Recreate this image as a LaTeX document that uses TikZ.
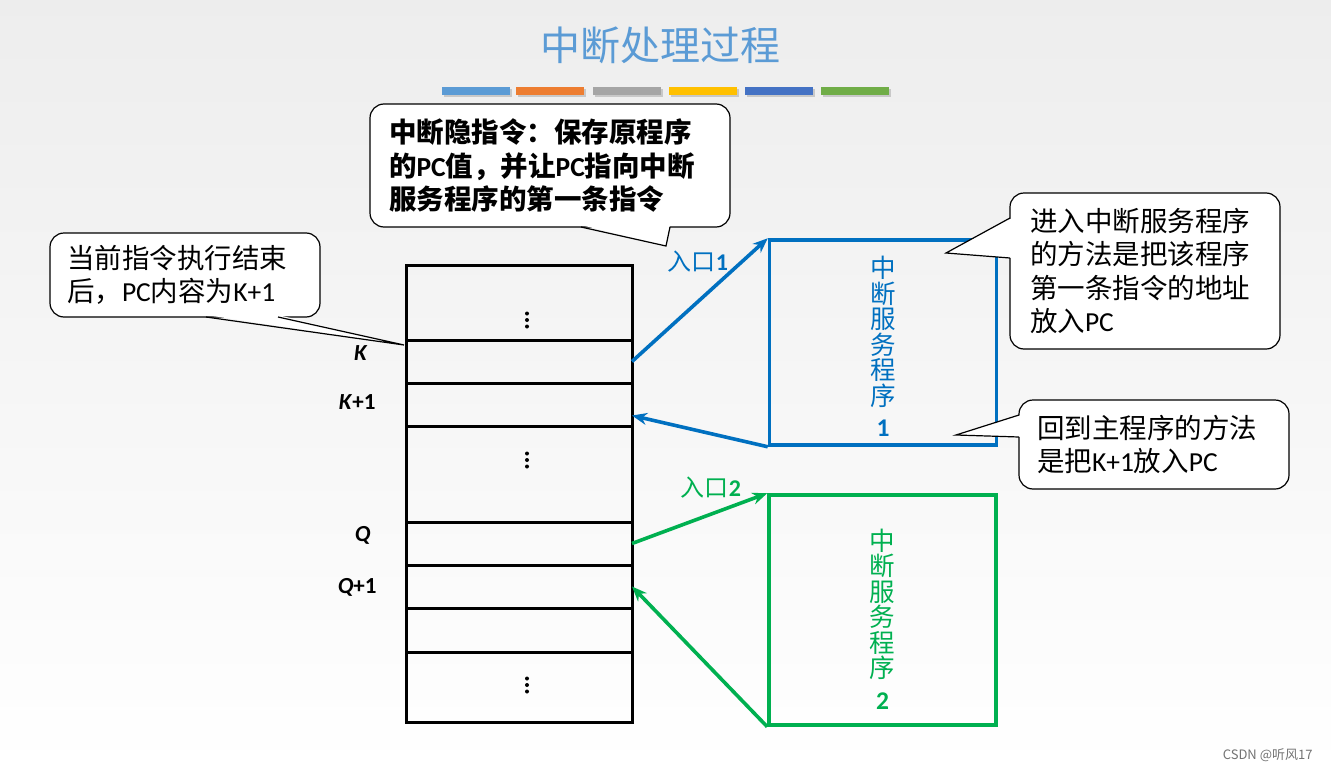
\documentclass[tikz,border=0pt]{standalone}
\usepackage{fontspec}
\setmainfont{Carlito}
\newfontfamily\cjk{Noto Sans CJK SC}
\usetikzlibrary{arrows.meta,positioning,calc,shadows}
\definecolor{titleblue}{HTML}{5B9BD5}
\definecolor{progblue}{HTML}{0070C0}
\definecolor{proggreen}{HTML}{00B050}
\definecolor{barA}{HTML}{5B9BD5}
\definecolor{barB}{HTML}{ED7D31}
\definecolor{barC}{HTML}{A5A5A5}
\definecolor{barD}{HTML}{FFC000}
\definecolor{barE}{HTML}{4472C4}
\definecolor{barF}{HTML}{70AD47}

\begin{document}
\begin{tikzpicture}[x=1pt, y=-1pt,
    bar/.style={minimum width=68pt, minimum height=8pt, inner sep=0pt, drop shadow={shadow xshift=1.5pt, shadow yshift=-1.5pt, opacity=.35}},
    cell/.style={draw, line width=3pt, minimum width=226pt, inner sep=0pt, outer sep=0pt},
    prog/.style={draw, line width=3.5pt, minimum width=227pt, inner sep=0pt},
    progtext/.style={align=center, inner sep=0pt, font=\cjk\fontsize{25.5}{25.5}\selectfont},
    bubble/.style={draw, fill=white, line width=1.2pt, rounded corners=14pt, align=left, inner sep=0pt, font=\cjk\fontsize{27.5}{33.5}\selectfont},
    tail/.style={line width=1.2pt, line join=miter},
    arrow/.style={line width=3.6pt, -{Stealth[length=15pt, width=12pt]}},
    addr/.style={anchor=east, font=\bfseries\fontsize{23}{23}\selectfont},
    entry/.style={font=\cjk\fontsize{24}{24}\selectfont},
    dot/.style={fill=black}
]

% Background
\useasboundingbox (0,0) rectangle (1331,771);
\shade[top color=black!7, bottom color=white] (0,0) rectangle (1331,771);

% Title and colour bars
\node[font=\cjk\fontsize{40}{40}\selectfont, text=titleblue] (title) at (660,45) {中断处理过程};
\node[bar, fill=barA] (barA) at (476,91) {};
\node[bar, fill=barB] (barB) at (550,91) {};
\node[bar, fill=barC] (barC) at (627,91) {};
\node[bar, fill=barD] (barD) at (703,91) {};
\node[bar, fill=barE] (barE) at (779,91) {};
\node[bar, fill=barF] (barF) at (855,91) {};

% Main program memory
\node[cell, minimum height=75pt] (row1) at (519,302.5) {};
\node[cell, minimum height=43pt] (rowK) at (519,361.5) {};
\node[cell, minimum height=43pt] (rowK1) at (519,404.5) {};
\node[cell, minimum height=96pt] (row4) at (519,474) {};
\node[cell, minimum height=43pt] (rowQ) at (519,543.5) {};
\node[cell, minimum height=43pt] (rowQ1) at (519,586.5) {};
\node[cell, minimum height=44pt] (row7) at (519,630) {};
\node[cell, minimum height=70pt] (row8) at (519,687) {};
\coordinate (dots1) at (527,320);
\coordinate (dots2) at (527,460);
\coordinate (dots3) at (527,685);
\foreach \d in {dots1,dots2,dots3}
  \foreach \s in {-6.5,0,6.5}
    \fill[dot] ([yshift=\s pt]\d) circle (2pt);

% Addresses
\node[addr] (addrK) at (371,353) {\textit{K}};
\node[addr] (addrK1) at (379,402) {\textit{K}+1};
\node[addr] (addrQ) at (374,535) {\textit{Q}};
\node[addr] (addrQ1) at (380,587) {\textit{Q}+1};

% Interrupt service programs
\node[prog, draw=progblue, minimum height=205pt] (prog1) at (883,342.5) {};
\node[progtext, text=progblue] (name1) at ([yshift=-4pt]prog1.center)
    {中\\断\\服\\务\\程\\序\\[6pt]{\rmfamily\bfseries 1}};
\node[prog, draw=proggreen, minimum height=230pt] (prog2) at (882.5,610) {};
\node[progtext, text=proggreen] (name2) at ([yshift=-9pt]prog2.center)
    {中\\断\\服\\务\\程\\序\\[6pt]{\rmfamily\bfseries 2}};

% Entries and returns
\draw[arrow, progblue] (rowK.east) -- (prog1.north west);
\draw[arrow, progblue] (prog1.south west) -- ([yshift=-11pt]rowK1.east);
\draw[arrow, proggreen] (rowQ.east) -- (prog2.north west);
\draw[arrow, proggreen] (prog2.south west) -- (rowQ1.east);
\node[entry, text=progblue] (entry1) at (698,262) {入口{\rmfamily\bfseries 1}};
\node[entry, text=proggreen] (entry2) at (711,488) {入口{\rmfamily\bfseries 2}};

% Callouts
\node[bubble, font=\cjk\bfseries\fontsize{27.5}{33.5}\selectfont, text width=322pt, minimum width=360pt, minimum height=123pt] (note1) at (550,165.5)
    {中断隐指令：保存原程序\\的{\rmfamily PC}值，并让{\rmfamily PC}指向中断\\服务程序的第一条指令};
\coordinate (tip1) at (666,246);
\fill[white] (581,225) -- (tip1) -- (670,225) -- cycle;
\draw[tail] (581,227) -- (tip1) -- (670,227);

\node[bubble, text width=236pt, minimum width=270pt, minimum height=84pt] (note2) at (185,275)
    {当前指令执行结束\\后，{\rmfamily PC}内容为{\rmfamily K+1}};
\coordinate (tip2) at (404,345);
\fill[white] (206,315) -- (tip2) -- (278,315) -- cycle;
\draw[tail] (206,317) -- (tip2) -- (278,317);

\node[bubble, text width=230pt, minimum width=270pt, minimum height=156pt] (note3) at (1145,271)
    {进入中断服务程序\\的方法是把该程序\\第一条指令的地址\\放入{\rmfamily PC}};
\coordinate (tip3) at (946,253);
\fill[white] (1012,218) -- (tip3) -- (1012,258) -- cycle;
\draw[tail] (1010,218) -- (tip3) -- (1010,258);

\node[bubble, text width=234pt, minimum width=270pt, minimum height=89pt] (note4) at (1154,444.5)
    {回到主程序的方法\\是把{\rmfamily K+1}放入{\rmfamily PC}};
\coordinate (tip4) at (956,435);
\fill[white] (1021,415) -- (tip4) -- (1021,437) -- cycle;
\draw[tail] (1019,415) -- (tip4) -- (1019,437);

% Source mark
\node[anchor=east, font=\cjk\fontsize{13}{13}\selectfont, text=black!55] (csdn) at (1316,755) {CSDN @听风17};

\end{tikzpicture}
\end{document}
